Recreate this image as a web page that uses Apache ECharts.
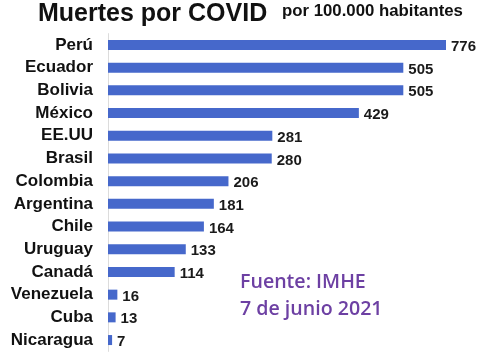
<!DOCTYPE html>
<html>
<head>
<meta charset="utf-8">
<script src="https://cdn.jsdelivr.net/npm/echarts@6/dist/echarts.min.js"></script>
<style>html,body{margin:0;padding:0;background:#fff;}#c{width:480px;height:360px;}</style>
</head>
<body>
<div id="c"></div>
<script>
var countries = ['Perú','Ecuador','Bolivia','México','EE.UU','Brasil','Colombia','Argentina','Chile','Uruguay','Canadá','Venezuela','Cuba','Nicaragua'];
var deaths = [776,505,505,429,281,280,206,181,164,133,114,16,13,7];
var titleText = 'Muertes por COVID';
var subtitleText = 'por 100.000 habitantes';
var sourceLines = ['Fuente: IMHE','7 de junio 2021'];

var chart = echarts.init(document.getElementById('c'));
chart.setOption({
  animation: false,
  backgroundColor: '#ffffff',
  title: [
    {text: titleText, left: 38, top: 2, padding: 0,
     textStyle: {fontFamily: 'Liberation Sans, Arial, sans-serif', fontSize: 25, fontWeight: 'bold', color: '#111'}},
    {text: subtitleText, left: 282, top: 3, padding: 0,
     textStyle: {fontFamily: 'Liberation Sans, Arial, sans-serif', fontSize: 16.8, fontWeight: 'bold', color: '#111'}}
  ],
  grid: {left: 108, right: 34, top: 33.6, bottom: 8.6, containLabel: false},
  xAxis: {type: 'value', min: 0, max: 578, show: false, splitLine: {show: false}},
  yAxis: {
    type: 'category', inverse: true, data: countries,
    axisLine: {show: true, lineStyle: {color: '#dcdcdc', width: 1}},
    axisTick: {show: false},
    axisLabel: {margin: 15, fontFamily: 'Liberation Sans, Arial, sans-serif', fontSize: 17, fontWeight: 'bold', color: '#111'}
  },
  series: [{
    type: 'bar', data: deaths, barWidth: 10, clip: true,
    itemStyle: {color: '#4668cb'},
    label: {show: true, position: 'right', distance: 5, offset: [0, 2],
      fontFamily: 'Liberation Sans, Arial, sans-serif', fontSize: 15, fontWeight: 'bold', color: '#1a1a1a'}
  }],
  graphic: [
    {type: 'text', left: 240, top: 272, style: {text: sourceLines[0], fill: '#6d40a3', font: '600 19.6px "Open Sans", sans-serif'}},
    {type: 'text', left: 240, top: 299, style: {text: sourceLines[1], fill: '#6d40a3', font: '600 19.6px "Open Sans", sans-serif'}}
  ]
});
</script>
</body>
</html>
